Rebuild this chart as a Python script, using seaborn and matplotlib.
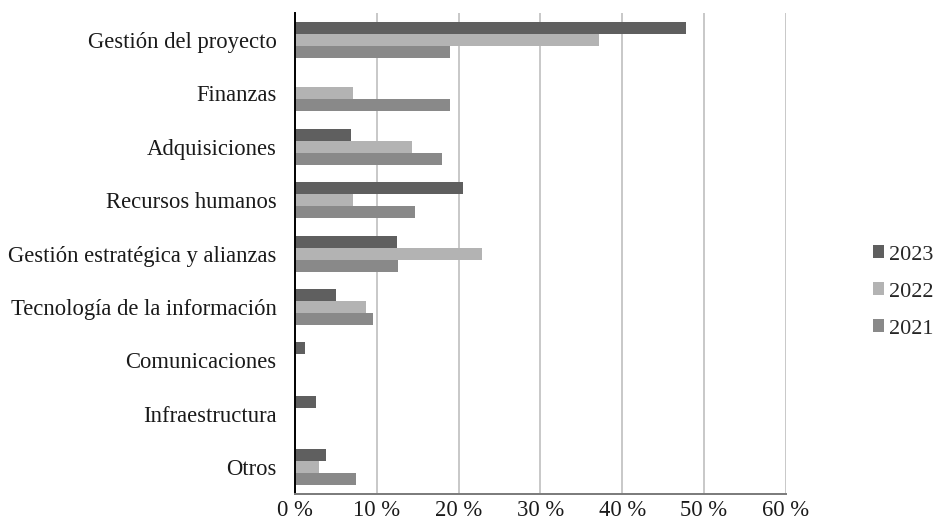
import matplotlib
matplotlib.use("Agg")
import matplotlib.pyplot as plt
import seaborn as sns
import pandas as pd

# Share of responses per area, by survey year (percent)
categories = [
    "Gestión del proyecto",
    "Finanzas",
    "Adquisiciones",
    "Recursos humanos",
    "Gestión estratégica y alianzas",
    "Tecnología de la información",
    "Comunicaciones",
    "Infraestructura",
    "Otros",
]
years = ["2023", "2022", "2021"]
values_2023 = [47.8, 0.0, 6.8, 20.5, 12.4, 5.0, 1.2, 2.5, 3.7]
values_2022 = [37.2, 7.1, 14.3, 7.1, 22.9, 8.6, 0.0, 0.0, 2.9]
values_2021 = [18.9, 18.9, 17.9, 14.7, 12.6, 9.5, 0.0, 0.0, 7.4]
x_ticks = [0, 10, 20, 30, 40, 50, 60]
x_tick_labels = ["0 %", "10 %", "20 %", "30 %", "40 %", "50 %", "60 %"]
year_colors = ["#5f5f5f", "#b3b3b3", "#898989"]

df = pd.DataFrame({
    "area": categories * 3,
    "year": [y for y in years for _ in categories],
    "pct": values_2023 + values_2022 + values_2021,
})

sns.set_style("white")
plt.rcParams["font.family"] = ["Liberation Serif", "DejaVu Serif"]

fig = plt.figure(figsize=(9.33, 5.27), dpi=100)
ax = fig.add_axes([0.3165, 0.0626, 0.5256, 0.9122])

sns.barplot(
    data=df, x="pct", y="area", hue="year",
    order=categories, hue_order=years,
    palette=year_colors, orient="h", width=0.674,
    linewidth=0, ax=ax, legend=True,
)

ax.set_xlim(0, 60)
ax.set_xticks(x_ticks)
ax.set_xticklabels(x_tick_labels)
ax.set_xlabel("")
ax.set_ylabel("")

ax.grid(axis="x", color="#c4c4c4", linewidth=1.3)
ax.grid(axis="y", visible=False)
ax.set_axisbelow(True)

for side in ("top", "right"):
    ax.spines[side].set_visible(False)
ax.spines["left"].set_color("#000000")
ax.spines["left"].set_linewidth(1.4)
ax.spines["bottom"].set_color("#7a7a7a")
ax.spines["bottom"].set_linewidth(1.4)

ax.tick_params(axis="both", length=0, labelsize=16.3, colors="#1a1a1a")
ax.tick_params(axis="y", pad=13.5)
ax.tick_params(axis="x", pad=4.5)

handles, labels = ax.get_legend_handles_labels()
ax.legend(
    handles, labels,
    loc="center left", bbox_to_anchor=(873 / 933, 1 - 292 / 527),
    bbox_transform=fig.transFigure,
    frameon=False, fontsize=16, borderpad=0, borderaxespad=0,
    handlelength=0.5, handleheight=0.5, handletextpad=0.23,
    labelspacing=0.8,
)

fig.savefig("out.png", dpi=100)
